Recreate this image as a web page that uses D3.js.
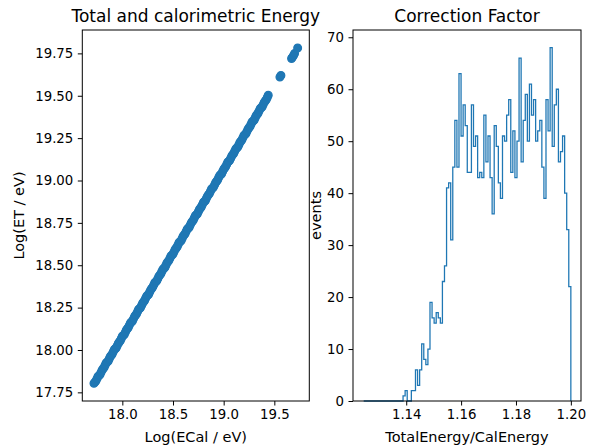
<!DOCTYPE html>
<html>
<head>
<meta charset="utf-8">
<script src="https://cdn.jsdelivr.net/npm/d3@7"></script>
<style>
  body { margin: 0; background: #fff; }
  svg { display: block; font-family: "DejaVu Sans", sans-serif; }
  .tick text { fill: #000; }
</style>
</head>
<body>
<svg id="chart"></svg>
<script>
// ---- data ----
const ecal = [
  17.72, 17.74, 17.76, 17.78, 17.80, 17.82, 17.84, 17.86, 17.88, 17.90,
  17.92, 17.94, 17.96, 17.98, 18.00, 18.02, 18.04, 18.06, 18.08, 18.10,
  18.12, 18.14, 18.16, 18.18, 18.20, 18.22, 18.24, 18.26, 18.28, 18.30,
  18.32, 18.34, 18.36, 18.38, 18.40, 18.42, 18.44, 18.46, 18.48, 18.50,
  18.52, 18.54, 18.56, 18.58, 18.60, 18.62, 18.64, 18.66, 18.68, 18.70,
  18.72, 18.74, 18.76, 18.78, 18.80, 18.82, 18.84, 18.86, 18.88, 18.90,
  18.92, 18.94, 18.96, 18.98, 19.00, 19.02, 19.04, 19.06, 19.08, 19.10,
  19.12, 19.14, 19.16, 19.18, 19.20, 19.22, 19.24, 19.26, 19.28, 19.30,
  19.32, 19.34, 19.36, 19.38, 19.40, 19.42, 19.44,
  17.73, 17.75, 17.77, 17.79, 17.81, 17.83, 17.85, 17.87, 17.89, 17.91,
  17.93, 17.95, 17.97, 17.99, 18.01, 18.03, 18.05, 18.07, 18.09, 18.11,
  18.13, 18.15, 18.17, 18.19, 18.21, 18.23, 18.25, 18.27, 18.29, 18.31,
  18.33, 18.35, 18.37, 18.39, 18.41, 18.43, 18.45, 18.47, 18.49, 18.51,
  18.53, 18.55, 18.57, 18.59, 18.61, 18.63, 18.65, 18.67, 18.69, 18.71,
  18.73, 18.75, 18.77, 18.79, 18.81, 18.83, 18.85, 18.87, 18.89, 18.91,
  18.93, 18.95, 18.97, 18.99, 19.01, 19.03, 19.05, 19.07, 19.09, 19.11,
  19.13, 19.15, 19.17, 19.19, 19.21, 19.23, 19.25, 19.27, 19.29, 19.31,
  19.33, 19.35, 19.37, 19.39, 19.41, 19.43,
  19.555, 19.565, 19.67, 19.68, 19.69, 19.70, 19.73
];
const et = [
  17.803, 17.818, 17.844, 17.855, 17.881, 17.897, 17.923, 17.934, 17.960, 17.976,
  18.002, 18.013, 18.039, 18.055, 18.081, 18.092, 18.118, 18.134, 18.160, 18.171,
  18.197, 18.213, 18.239, 18.250, 18.276, 18.292, 18.318, 18.329, 18.355, 18.371,
  18.397, 18.408, 18.434, 18.450, 18.476, 18.487, 18.513, 18.529, 18.555, 18.566,
  18.592, 18.608, 18.634, 18.645, 18.671, 18.687, 18.713, 18.724, 18.750, 18.766,
  18.792, 18.803, 18.829, 18.845, 18.871, 18.882, 18.908, 18.924, 18.950, 18.961,
  18.987, 19.003, 19.029, 19.040, 19.066, 19.082, 19.108, 19.119, 19.145, 19.161,
  19.187, 19.198, 19.224, 19.240, 19.266, 19.277, 19.303, 19.319, 19.345, 19.356,
  19.382, 19.398, 19.424, 19.435, 19.461, 19.477, 19.503,
  17.810, 17.831, 17.849, 17.868, 17.889, 17.910, 17.928, 17.947, 17.968, 17.989,
  18.007, 18.026, 18.047, 18.068, 18.086, 18.105, 18.126, 18.147, 18.165, 18.184,
  18.205, 18.226, 18.244, 18.263, 18.284, 18.305, 18.323, 18.342, 18.363, 18.384,
  18.402, 18.421, 18.442, 18.463, 18.481, 18.500, 18.521, 18.542, 18.560, 18.579,
  18.600, 18.621, 18.639, 18.658, 18.679, 18.700, 18.718, 18.737, 18.758, 18.779,
  18.797, 18.816, 18.837, 18.858, 18.876, 18.895, 18.916, 18.937, 18.955, 18.974,
  18.995, 19.016, 19.034, 19.053, 19.074, 19.095, 19.113, 19.132, 19.153, 19.174,
  19.192, 19.211, 19.232, 19.253, 19.271, 19.290, 19.311, 19.332, 19.350, 19.369,
  19.390, 19.411, 19.429, 19.448, 19.469, 19.490,
  19.610, 19.620, 19.720, 19.728, 19.738, 19.750, 19.782
];

// correction factor histogram, 100 bins between histRange
const histRange = [1.1245, 1.2000];
const histCounts = [
  0, 0, 0, 0, 0, 0, 0, 0, 0, 0,
  0, 0, 0, 0, 0, 0, 0, 0, 0, 1,
  2, 0, 0, 2, 2, 6, 3, 6, 11, 8,
  7, 10, 19, 16, 15, 17, 16, 15, 23, 26,
  41, 42, 31, 45, 54, 45, 63, 51, 57, 53,
  44, 44, 57, 49, 51, 43, 44, 43, 55, 46,
  51, 43, 36, 53, 49, 42, 39, 51, 50, 55,
  58, 44, 52, 43, 50, 66, 46, 54, 59, 50,
  61, 55, 58, 50, 52, 54, 45, 39, 58, 52,
  68, 49, 57, 60, 46, 48, 51, 40, 33, 22
];

const leftXLim = [17.605, 19.845];
const leftYLim = [17.699, 19.888];
const rightXLim = [1.1206, 1.2037];
const rightYLim = [0, 71.4];

const leftXTicks = [18.0, 18.5, 19.0, 19.5];
const leftYTicks = [17.75, 18.0, 18.25, 18.5, 18.75, 19.0, 19.25, 19.5, 19.75];
const rightXTicks = [1.14, 1.16, 1.18, 1.20];
const rightYTicks = [0, 10, 20, 30, 40, 50, 60, 70];

// ---- layout ----
const dimensions = {
  width: 590,
  height: 446,
  top: 30,
  bottom: 401,
  left: { x0: 82.3, x1: 309.3 },
  right: { x0: 353, x1: 581 }
};

const blue = "#1f77b4";
const tickFont = 13.3;
const labelFont = 14.5;
const titleFont = 17;

const svg = d3.select("#chart")
  .attr("width", dimensions.width)
  .attr("height", dimensions.height);

function drawAxes(g, xScale, yScale, xTicks, yTicks, xFmt, yFmt) {
  const xAxis = d3.axisBottom(xScale)
    .tickValues(xTicks).tickFormat(d3.format(xFmt))
    .tickSize(4.5).tickPadding(4.5).tickSizeOuter(0);
  const yAxis = d3.axisLeft(yScale)
    .tickValues(yTicks).tickFormat(d3.format(yFmt))
    .tickSize(4.5).tickPadding(4.5).tickSizeOuter(0);

  g.append("g")
    .attr("transform", `translate(0,${dimensions.bottom})`)
    .call(xAxis)
    .call(a => a.select(".domain").remove());
  g.append("g")
    .attr("transform", `translate(${xScale.range()[0]},0)`)
    .call(yAxis)
    .call(a => a.select(".domain").remove());

  g.selectAll(".tick line").attr("stroke", "#000").attr("stroke-width", 1);
  g.selectAll(".tick text")
    .attr("font-size", tickFont)
    .attr("font-family", "DejaVu Sans");

  // spines
  g.append("rect")
    .attr("x", xScale.range()[0])
    .attr("y", dimensions.top)
    .attr("width", xScale.range()[1] - xScale.range()[0])
    .attr("height", dimensions.bottom - dimensions.top)
    .attr("fill", "none")
    .attr("stroke", "#000")
    .attr("stroke-width", 1);
}

// 1. Left: scatter of energies
const left = svg.append("g");
const xLeft = d3.scaleLinear().domain(leftXLim).range([dimensions.left.x0, dimensions.left.x1]);
const yLeft = d3.scaleLinear().domain(leftYLim).range([dimensions.bottom, dimensions.top]);

left.append("g")
  .selectAll("circle")
  .data(ecal)
  .join("circle")
  .attr("cx", d => xLeft(d))
  .attr("cy", (d, i) => yLeft(et[i]))
  .attr("r", 3.85)
  .attr("fill", blue)
  .attr("stroke", blue)
  .attr("stroke-width", 1.28);

drawAxes(left, xLeft, yLeft, leftXTicks, leftYTicks, ".1f", ".2f");

left.append("text")
  .attr("x", (dimensions.left.x0 + dimensions.left.x1) / 2)
  .attr("y", 21.5)
  .attr("text-anchor", "middle")
  .attr("font-size", titleFont)
  .text("Total and calorimetric Energy");

left.append("text")
  .attr("x", (dimensions.left.x0 + dimensions.left.x1) / 2)
  .attr("y", 442)
  .attr("text-anchor", "middle")
  .attr("font-size", labelFont)
  .text("Log(ECal / eV)");

left.append("text")
  .attr("transform", `translate(24,${(dimensions.top + dimensions.bottom) / 2}) rotate(-90)`)
  .attr("text-anchor", "middle")
  .attr("font-size", labelFont)
  .text("Log(ET / eV)");

// 2. Right: step histogram of the correction factor
const right = svg.append("g");
const xRight = d3.scaleLinear().domain(rightXLim).range([dimensions.right.x0, dimensions.right.x1]);
const yRight = d3.scaleLinear().domain(rightYLim).range([dimensions.bottom, dimensions.top]);

const edgeScale = d3.scaleLinear().domain([0, histCounts.length]).range(histRange);
const stepPoints = [[edgeScale(0), 0]];
histCounts.forEach((c, i) => {
  stepPoints.push([edgeScale(i), c]);
  stepPoints.push([edgeScale(i + 1), c]);
});
stepPoints.push([edgeScale(histCounts.length), 0]);

const stepLine = d3.line()
  .x(d => xRight(d[0]))
  .y(d => yRight(d[1]));

right.append("path")
  .attr("d", stepLine(stepPoints))
  .attr("fill", "none")
  .attr("stroke", blue)
  .attr("stroke-width", 1.28)
  .attr("stroke-linejoin", "miter");

drawAxes(right, xRight, yRight, rightXTicks, rightYTicks, ".2f", "d");

right.append("text")
  .attr("x", (dimensions.right.x0 + dimensions.right.x1) / 2)
  .attr("y", 21.5)
  .attr("text-anchor", "middle")
  .attr("font-size", titleFont)
  .text("Correction Factor");

right.append("text")
  .attr("x", (dimensions.right.x0 + dimensions.right.x1) / 2)
  .attr("y", 442)
  .attr("text-anchor", "middle")
  .attr("font-size", labelFont)
  .text("TotalEnergy/CalEnergy");

right.append("text")
  .attr("transform", `translate(320.5,${(dimensions.top + dimensions.bottom) / 2}) rotate(-90)`)
  .attr("text-anchor", "middle")
  .attr("font-size", labelFont)
  .text("events");
</script>
</body>
</html>
